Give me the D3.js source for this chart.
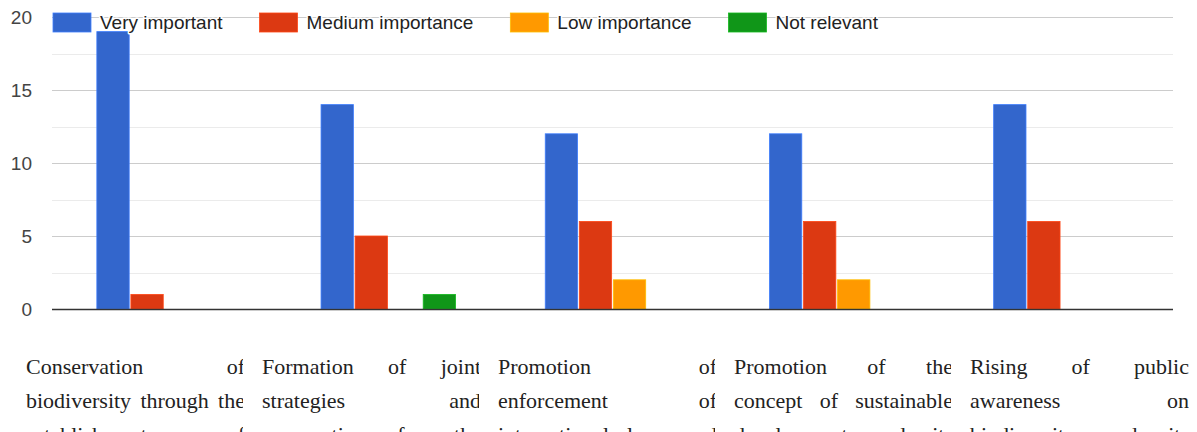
<!DOCTYPE html>
<html>
<head>
<meta charset="utf-8">
<script src="https://cdn.jsdelivr.net/npm/d3@7"></script>
<style>
  html, body { margin: 0; padding: 0; background: #fff; overflow: hidden; width: 1197px; height: 432px; }
  #wrap { position: relative; width: 1197px; height: 432px; overflow: hidden; }
  svg { position: absolute; left: 0; top: 0; }
  .lab { position: absolute; background: #fff; overflow: hidden; box-sizing: content-box;
         font-family: "Liberation Serif", "DejaVu Serif", serif; font-size: 22px; line-height: 34px;
         color: #222; text-align: justify; }
</style>
</head>
<body>
<div id="wrap"></div>
<script>
const categories = [
  "Conservation of biodiversity through the establishment of protected areas",
  "Formation of joint strategies and cooperation for the protection of biodiversity",
  "Promotion of enforcement of international laws and conventions",
  "Promotion of the concept of sustainable development and its principles",
  "Rising of public awareness on biodiversity and its importance"
];
const seriesNames = ["Very important", "Medium importance", "Low importance", "Not relevant"];
const veryImportant    = [19, 14, 12, 12, 14];
const mediumImportance = [1, 5, 6, 6, 6];
const lowImportance    = [0, 0, 2, 2, 0];
const notRelevant      = [0, 1, 0, 0, 0];
const seriesValues = [veryImportant, mediumImportance, lowImportance, notRelevant];
const colors = ["#3366cc", "#dc3912", "#ff9900", "#109618"];
const yTicks = [0, 5, 10, 15, 20];
const yMinorTicks = [2.5, 7.5, 12.5, 17.5];

const W = 1197, H = 432;
const wrap = d3.select("#wrap");
const svg = wrap.append("svg").attr("width", W).attr("height", H);

const x0 = d3.scaleBand().domain(d3.range(categories.length)).range([52, 1173]).padding(0);
const groupW = x0.bandwidth() * 0.6;
const x1 = d3.scaleBand().domain(d3.range(seriesNames.length)).range([0, groupW]).paddingInner(0.05);
const y = d3.scaleLinear().domain([0, 20]).range([309, 17]);

// gridlines
svg.append("g").selectAll("line").data(yMinorTicks).join("line")
  .attr("x1", 52).attr("x2", 1173)
  .attr("y1", d => Math.round(y(d)) + 0.5).attr("y2", d => Math.round(y(d)) + 0.5)
  .attr("stroke", "#ebebeb").attr("stroke-width", 1);
svg.append("g").selectAll("line").data(yTicks.filter(d => d !== 0)).join("line")
  .attr("x1", 52).attr("x2", 1173)
  .attr("y1", d => Math.round(y(d)) + 0.5).attr("y2", d => Math.round(y(d)) + 0.5)
  .attr("stroke", "#cccccc").attr("stroke-width", 1);

// y axis labels
const yAxis = d3.axisLeft(y).tickValues(yTicks).tickSize(0).tickPadding(0).tickFormat(d3.format("d"));
const yg = svg.append("g").attr("transform", "translate(32,0)").call(yAxis);
yg.select(".domain").remove();
yg.selectAll("text").attr("font-family", "Arial, 'Liberation Sans', sans-serif")
  .attr("font-size", 19).attr("fill", "#444");

// bars
const groups = svg.append("g").selectAll("g").data(categories.map((c, i) => i)).join("g")
  .attr("transform", i => `translate(${x0(i) + (x0.bandwidth() - groupW) / 2},0)`);
groups.selectAll("rect")
  .data(i => seriesValues.map((vals, s) => ({ s, v: vals[i] })).filter(d => d.v > 0))
  .join("rect")
  .attr("x", d => x1(d.s))
  .attr("width", x1.bandwidth())
  .attr("y", d => y(d.v))
  .attr("height", d => y(0) - y(d.v))
  .attr("fill", d => colors[d.s])
  .attr("stroke", d => d3.color(colors[d.s]).brighter(0.6))
  .attr("stroke-width", 0.8);

// baseline
svg.append("line").attr("x1", 52).attr("x2", 1173)
  .attr("y1", y(0) + 0.5).attr("y2", y(0) + 0.5)
  .attr("stroke", "#333").attr("stroke-width", 1.5);

// legend
const leg = svg.append("g");
let lx = 53;
seriesNames.forEach((name, i) => {
  leg.append("rect").attr("x", lx).attr("y", 13).attr("width", 38).attr("height", 19)
    .attr("fill", colors[i]).attr("stroke", d3.color(colors[i]).brighter(0.6)).attr("stroke-width", 0.8);
  const t = leg.append("text").attr("x", lx + 47).attr("y", 29)
    .attr("font-family", "Arial, 'Liberation Sans', sans-serif").attr("font-size", 19)
    .attr("fill", "#222").attr("stroke", "#fff").attr("stroke-width", 3)
    .attr("paint-order", "stroke").attr("stroke-linejoin", "round")
    .text(name);
  lx = lx + 47 + t.node().getComputedTextLength() + 37;
});

// category labels (justified, clipped by following label)
const slot = 236;
const lab = d3.scaleBand().domain(d3.range(categories.length)).range([26, 26 + slot * categories.length]);
wrap.selectAll("div.lab").data(categories).join("div")
  .attr("class", "lab")
  .style("left", (d, i) => (lab(i) - 19) + "px")
  .style("top", "350px")
  .style("padding-left", "19px")
  .style("width", "219px")
  .style("height", "90px")
  .text(d => d);
</script>
</body>
</html>
